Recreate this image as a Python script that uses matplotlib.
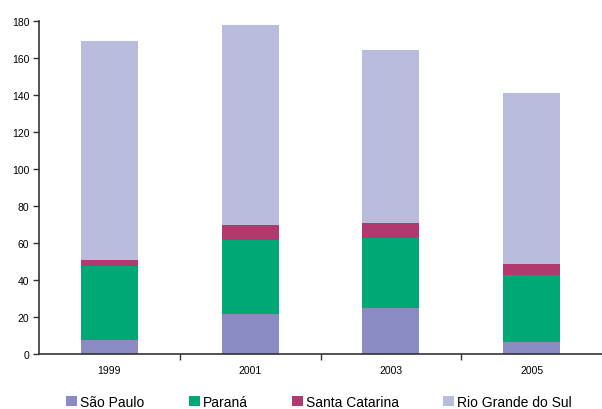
import matplotlib
matplotlib.use("Agg")
import matplotlib.pyplot as plt
import numpy as np
from matplotlib.patches import Patch

years = ["1999", "2001", "2003", "2005"]
sao_paulo = [7.7, 21.6, 24.9, 6.5]
parana = [39.9, 40.0, 37.8, 36.4]
santa_catarina = [3.2, 8.1, 8.1, 5.7]
rio_grande = [118.3, 108.1, 93.5, 92.5]

series = [
    ("São Paulo", sao_paulo, "#8B8BC3"),
    ("Paraná", parana, "#00A875"),
    ("Santa Catarina", santa_catarina, "#B03A6E"),
    ("Rio Grande do Sul", rio_grande, "#B9BCDD"),
]

plt.rcParams["font.family"] = ["Liberation Sans", "DejaVu Sans"]

fig = plt.figure(figsize=(6.02, 4.10), dpi=100)
ax = fig.add_axes([39 / 602, 55 / 410, 563 / 602, 333 / 410])

x = np.arange(len(years))
bottom = np.zeros(len(years))
for name, vals, color in series:
    ax.bar(x, vals, width=0.405, bottom=bottom, color=color, label=name)
    bottom += np.array(vals)

ax.set_xlim(-0.5, len(years) - 0.5)
ax.set_ylim(0, 180)
ax.set_yticks(range(0, 181, 20))
ax.set_xticks(x)
ax.set_xticklabels(years)
ax.set_xticks(np.arange(0.5, len(years) - 0.5, 1), minor=True)
ax.tick_params(axis="x", which="major", length=0, pad=8, labelsize=7.5)
ax.tick_params(axis="x", which="minor", length=4, width=1, direction="out", color="#333333")
ax.tick_params(axis="y", length=4, width=1, direction="out", color="#333333", labelsize=7.5, pad=3)

for s in ["top", "right"]:
    ax.spines[s].set_visible(False)
for s in ["left", "bottom"]:
    ax.spines[s].set_color("#333333")
    ax.spines[s].set_linewidth(1.2)

handles = [Patch(facecolor=c, label=n) for n, _, c in series]
fig.legend(handles=handles, loc="center", bbox_to_anchor=(0.53, 7 / 410 + 0.0), ncol=4,
           frameon=False, fontsize=10, handlelength=0.8, handleheight=0.8,
           handletextpad=0.2, columnspacing=3.2)

fig.savefig("out.png", dpi=100)
